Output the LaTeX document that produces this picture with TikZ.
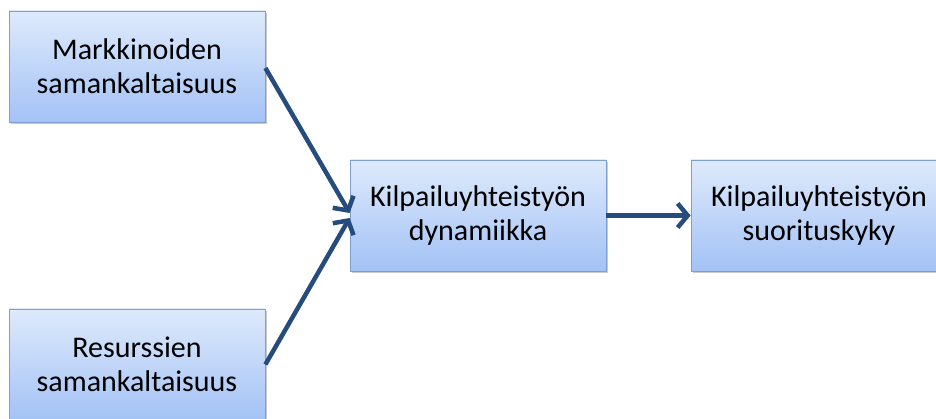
\documentclass[tikz,border=0pt]{standalone}
\usepackage{fontspec}
\setmainfont{Carlito}
\usetikzlibrary{arrows.meta,shadows}
\definecolor{boxtop}{RGB}{222,234,252}
\definecolor{boxbot}{RGB}{163,194,245}
\definecolor{boxline}{RGB}{126,159,208}
\definecolor{arrowblue}{RGB}{38,76,126}
\tikzset{
  block/.style={rectangle, draw=boxline, line width=0.8pt,
    top color=boxtop, bottom color=boxbot,
    minimum width=256pt, minimum height=111pt, inner sep=0pt,
    align=center, font=\fontsize{30}{34}\selectfont,
    drop shadow={shadow xshift=1.5pt, shadow yshift=-2pt, opacity=0.35, fill=black!60}},
  link/.style={draw=arrowblue, line width=4.5pt,
    -{Straight Barb[length=10pt,width=24pt,line width=4.5pt]}}
}
\begin{document}
\begin{tikzpicture}[x=1pt,y=-1pt]
  \useasboundingbox (0,0) rectangle (936,419);
  \node[block] (markets) at (137,66.5) {Markkinoiden\\samankaltaisuus};
  \node[block] (resources) at (137,364.5) {Resurssien\\samankaltaisuus};
  \node[block] (dynamics) at (478,215.5) {Kilpailuyhteistyön\\dynamiikka};
  \node[block] (performance) at (819,215.5) {Kilpailuyhteistyön\\suorituskyky};
  \draw[link] ([yshift=-1.5pt]markets.east) -- ([yshift=2.5pt]dynamics.west);
  \draw[link] (resources.east) -- ([yshift=-2.5pt]dynamics.west);
  \draw[link] (dynamics.east) -- (performance.west);
\end{tikzpicture}
\end{document}
